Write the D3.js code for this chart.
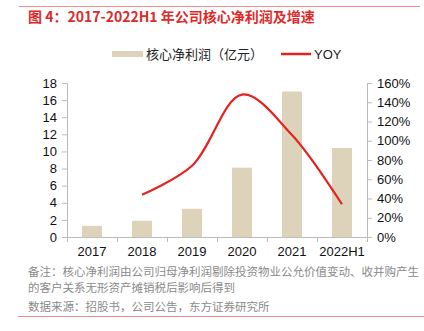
<!DOCTYPE html>
<html>
<head>
<meta charset="utf-8">
<script src="https://cdn.jsdelivr.net/npm/d3@7"></script>
<style>
  body { margin: 0; background: #fff; }
  text { font-family: "Liberation Sans", "Noto Sans CJK SC", sans-serif; }
</style>
</head>
<body>
<div class="chart"></div>
<script>
const years = ["2017", "2018", "2019", "2020", "2021", "2022H1"];
const profit = [1.3, 1.9, 3.3, 8.1, 17.0, 10.4];
const yoy = [null, 44, 74, 148, 106, 34];
const leftTicks = [0, 2, 4, 6, 8, 10, 12, 14, 16, 18];
const rightTicks = [0, 20, 40, 60, 80, 100, 120, 140, 160];

const W = 424, H = 331;
const cjk = '"Noto Sans CJK SC", sans-serif';
const margin = {left: 67, top: 83, right: 57, bottom: 94};
const width = W - margin.left - margin.right;
const height = H - margin.top - margin.bottom;

const root = d3.select('.chart')
  .append('svg')
  .attr('width', W)
  .attr('height', H);

// frame lines and title
root.append('line')
  .attr('x1', 19).attr('x2', 420).attr('y1', 6.5).attr('y2', 6.5)
  .attr('stroke', '#f08a84').attr('stroke-width', 1);
root.append('line')
  .attr('x1', 18).attr('x2', 424).attr('y1', 316.5).attr('y2', 316.5)
  .attr('stroke', '#f08a84').attr('stroke-width', 1);

root.append('text')
  .attr('x', 28).attr('y', 22)
  .attr('fill', '#dd2a2a')
  .style('font-family', cjk)
  .style('font-size', '14px')
  .style('font-weight', 'bold')
  .text('图 4：2017-2022H1 年公司核心净利润及增速');

// legend
root.append('rect')
  .attr('x', 112).attr('y', 51).attr('width', 31).attr('height', 6)
  .attr('fill', '#ddd3bb');
root.append('text')
  .attr('x', 146).attr('y', 59)
  .attr('fill', '#222')
  .style('font-family', cjk)
  .style('font-size', '13px')
  .text('核心净利润（亿元）');
root.append('line')
  .attr('x1', 281).attr('x2', 311).attr('y1', 54).attr('y2', 54)
  .attr('stroke', '#e3231f').attr('stroke-width', 2.5);
root.append('text')
  .attr('x', 314).attr('y', 59)
  .attr('fill', '#222')
  .style('font-size', '13px')
  .text('YOY');

const svg = root.append('g')
  .attr('transform', 'translate(' + margin.left + ',' + margin.top + ')');

// scales
const xScale = d3.scaleBand()
  .domain(years)
  .range([0, width])
  .paddingInner(0.6)
  .paddingOuter(0.3);

const yLeft = d3.scaleLinear().domain([0, 18]).range([height, 0]);
const yRight = d3.scaleLinear().domain([0, 160]).range([height, 0]);

// axes
const leftAxis = d3.axisLeft(yLeft).tickValues(leftTicks).tickSize(5).tickPadding(5);
const rightAxis = d3.axisRight(yRight).tickValues(rightTicks).tickSize(5).tickPadding(5)
  .tickFormat(d => d + '%');

const gl = svg.append('g').call(leftAxis);
const gr = svg.append('g').attr('transform', 'translate(' + width + ',0)').call(rightAxis);

const gx = svg.append('g').attr('transform', 'translate(0,' + height + ')')
  .call(d3.axisBottom(xScale).tickSize(0).tickPadding(10));
// tick marks between categories
const step = xScale.step();
gx.selectAll('.sep')
  .data(d3.range(years.length + 1))
  .enter()
  .append('line')
  .attr('class', 'sep')
  .attr('x1', i => i * step + 0.5).attr('x2', i => i * step + 0.5)
  .attr('y1', 0).attr('y2', 5)
  .attr('stroke', '#bbb');

[gl, gr, gx].forEach(g => {
  g.select('.domain').attr('stroke', '#bbb');
  g.selectAll('.tick line').attr('stroke', '#bbb');
  g.selectAll('text').attr('fill', '#111').style('font-size', '13px')
    .style('font-family', '"Liberation Sans", sans-serif');
});
gx.select('.domain').attr('d', 'M0,0.5H' + width);

// bars
svg.selectAll('rect.bar')
  .data(profit)
  .enter()
  .append('rect')
  .attr('class', 'bar')
  .attr('x', (d, i) => xScale(years[i]))
  .attr('y', d => yLeft(d))
  .attr('width', xScale.bandwidth())
  .attr('height', d => height - yLeft(d))
  .attr('fill', '#ddd3bb');

// yoy line
const line = d3.line()
  .defined(d => d[1] != null)
  .x(d => xScale(d[0]) + xScale.bandwidth() / 2)
  .y(d => yRight(d[1]))
  .curve(d3.curveCatmullRom.alpha(0.5));

svg.append('path')
  .datum(years.map((y, i) => [y, yoy[i]]).filter(d => d[1] != null))
  .attr('d', line)
  .attr('fill', 'none')
  .attr('stroke', '#e3231f')
  .attr('stroke-width', 2.2);

// notes
const notes = [
  ['备注：核心净利润由公司归母净利润剔除投资物业公允价值变动、收并购产生', 276],
  ['的客户关系无形资产摊销税后影响后得到', 292],
  ['数据来源：招股书，公司公告，东方证券研究所', 311]
];
root.selectAll('text.note')
  .data(notes)
  .enter()
  .append('text')
  .attr('class', 'note')
  .attr('x', 28)
  .attr('y', d => d[1])
  .attr('fill', '#8a8a8a')
  .style('font-family', cjk)
  .style('font-size', '11.5px')
  .text(d => d[0]);
</script>
</body>
</html>
